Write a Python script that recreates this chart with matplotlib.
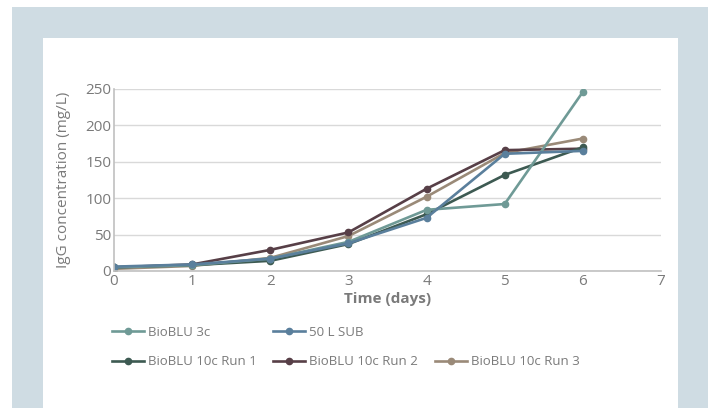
import matplotlib.pyplot as plt
from matplotlib.patches import Rectangle
from matplotlib.lines import Line2D

days = [0, 1, 2, 3, 4, 5, 6]
bioblu_3c = [5, 8, 17, 40, 84, 92, 246]
sub_50l = [6, 9, 17, 38, 73, 161, 165]
run1 = [5, 8, 14, 37, 78, 132, 170]
run2 = [5, 9, 29, 53, 113, 166, 168]
run3 = [3, 7, 18, 48, 102, 162, 182]

names = ["BioBLU 3c", "50 L SUB", "BioBLU 10c Run 1", "BioBLU 10c Run 2", "BioBLU 10c Run 3"]
colors = ["#6f9a96", "#5a7f9c", "#3d5a52", "#573f47", "#9a8a78"]
text_grey = "#7a7a7a"

plt.rcParams["font.family"] = ["Open Sans", "DejaVu Sans"]

fig = plt.figure(figsize=(7.15, 4.08), dpi=100)

# light frame around a white card
fig.patches.append(Rectangle((12 / 715, 0), 696 / 715, 401 / 408, transform=fig.transFigure,
                             facecolor="#cfdce3", edgecolor="none", zorder=-2))
fig.patches.append(Rectangle((43 / 715, 0), 635 / 715, 370 / 408, transform=fig.transFigure,
                             facecolor="white", edgecolor="none", zorder=-1))

ax = fig.add_axes([114 / 715, 1 - 271 / 408, 547 / 715, 182 / 408])
ax.set_facecolor("none")

series = [run3, run2, run1, bioblu_3c, sub_50l]
order = [4, 3, 2, 0, 1]
handles = {}
for vals, i in zip(series, order):
    ln, = ax.plot(days, vals, color=colors[i], lw=1.9, marker="o", ms=4.5, label=names[i])
    handles[i] = ln

ax.set_xlim(0, 7)
ax.set_ylim(0, 250)
ax.set_xticks(range(0, 8))
ax.set_yticks(range(0, 251, 50))
ax.grid(axis="y", color="#d9d9d9", lw=1)
ax.set_axisbelow(True)
for s in ["top", "right"]:
    ax.spines[s].set_visible(False)
for s in ["left", "bottom"]:
    ax.spines[s].set_color("#c0c0c0")
    ax.spines[s].set_linewidth(1.2)
ax.tick_params(length=0, colors=text_grey, labelsize=11, pad=2)

ax.set_xlabel("Time (days)", color=text_grey, fontsize=11, fontweight="bold", labelpad=2)
ax.set_ylabel("IgG concentration (mg/L)", color=text_grey, fontsize=11, labelpad=10)

blank = Line2D([], [], color="none")
leg_handles = [handles[0], handles[2], handles[1], handles[3], blank, handles[4]]
leg_labels = [names[0], names[2], names[1], names[3], "", names[4]]
leg = fig.legend(leg_handles, leg_labels, ncol=3, loc="upper left",
                 bbox_to_anchor=(100 / 715, 1 - 314 / 408), frameon=False,
                 fontsize=9.5, handlelength=2.4, handletextpad=0.3,
                 columnspacing=1.3, labelspacing=1.25)
for t in leg.get_texts():
    t.set_color(text_grey)

fig.savefig("out.png", dpi=100)
